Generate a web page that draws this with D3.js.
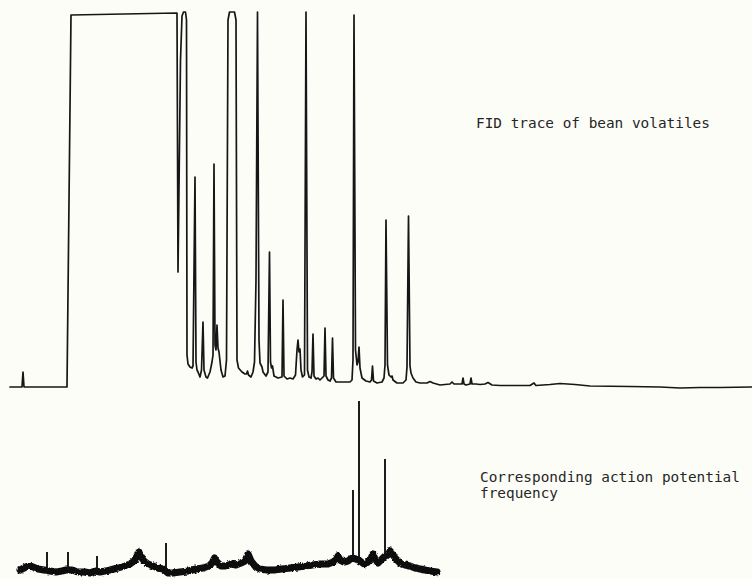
<!DOCTYPE html>
<html>
<head>
<meta charset="utf-8">
<script src="https://cdn.jsdelivr.net/npm/d3@7"></script>
<style>
  html, body { margin: 0; padding: 0; background: #fdfdf8; }
  svg { display: block; }
  .label { font-family: "DejaVu Sans Mono", monospace; font-size: 14.4px; fill: #262626; }
</style>
</head>
<body>
<svg id="chart" width="752" height="579"></svg>
<script>
// ---- FID trace: retention time vs. detector response (chart units) ----
const fidTime = [
  0, 12, 13, 14, 57, 61, 167, 168, 170.5, 172, 173.5, 175.5, 176.5, 177, 178, 180, 182,
  183, 185, 186, 187, 188, 190, 191.5, 193, 194, 196, 197.5, 200, 202, 203, 204, 205, 206,
  207, 208, 209, 211, 213, 215, 216.5, 218, 219.5, 224.5, 226, 227, 228.5, 232, 235, 236.5,
  237.5, 238.5, 241, 243, 244.5, 246, 247.5, 249, 250, 252, 253, 256, 258, 259.5, 260.5,
  261.5, 262.5, 264, 268, 272, 273, 274, 277, 280, 283, 285.5, 287, 288, 289, 290, 291,
  292.5, 294.5, 296, 297.5, 299, 301, 302, 303, 304, 306, 308, 310, 312, 314, 315, 316,
  318, 320, 321.5, 322.5, 323.5, 326, 330, 335, 340, 342, 343, 344, 345.5, 347, 348, 349,
  350, 352, 356, 360, 361.5, 362.5, 363.5, 367, 372, 374, 375, 376, 377.5, 379, 381, 382,
  383, 387, 393, 396, 397, 398.5, 400, 401, 403, 406, 410, 417, 420, 423, 430, 440, 442,
  444, 452, 453, 454, 456, 460, 461, 462, 466, 470, 475, 478, 482, 490, 520, 524, 526,
  540, 550, 565, 580, 620, 650, 670, 690, 710, 742
];
const fidSignal = [
  0, 0, 15, 0, 0, 372, 374, 115, 327, 371, 375, 375, 367, 32, 23, 20, 19,
  21, 210, 25, 17, 15, 10, 17, 65, 17, 10, 9, 15, 25, 32, 223, 42, 37,
  62, 39, 35, 17, 10, 11, 27, 367, 375, 375, 367, 27, 19, 15, 13, 13,
  16, 12, 10, 15, 25, 107, 375, 47, 24, 20, 15, 11, 15, 135, 25,
  19, 21, 11, 9, 10, 87, 11, 8, 9, 8, 12, 37, 47, 35, 38, 17,
  10, 12, 375, 17, 10, 9, 15, 53, 11, 8, 9, 7, 9, 11, 59, 11,
  7, 6, 9, 49, 9, 5, 5, 5, 5, 7, 27, 372, 37, 22, 25, 40,
  19, 9, 6, 5, 7, 21, 6, 4, 5, 9, 22, 167, 22, 12, 10, 11,
  7, 4, 4, 7, 20, 171, 21, 14, 9, 5, 4, 4, 5.5, 4, 2, 3, 5,
  3, 3, 9, 3, 2, 3, 9, 3, 3, 2.5, 3, 4.5, 2, 1.5, 1.5, 4, 1.5,
  2.5, 3.5, 2.5, 1, 0.5, 0, -1, -0.5, -0.5, 0
];

// ---- Action potential frequency: smoothed level and discrete spikes ----
const apTime = [
  10, 14, 18, 23, 28, 34, 40, 46, 52, 56, 62, 68, 75, 80, 85, 90, 95, 100, 108, 115,
  120, 124, 127, 129, 131, 134, 138, 143, 148, 153, 158, 163, 170, 178, 186, 193, 199,
  202, 204.5, 207, 211, 216, 221, 226, 231, 235, 238, 241, 245, 250, 256, 264, 272, 280,
  288, 295, 302, 310, 318, 323, 326, 328, 330, 334, 338, 342, 346, 350, 354, 358, 361,
  363, 365, 368, 372, 375, 378, 380, 382, 385, 390, 395, 400, 405, 410, 415, 420, 427
];
const apLevel = [
  8, 10, 12, 11, 9, 8, 7, 6, 7, 8, 8, 6, 6, 5, 7, 6, 7, 8, 10, 12,
  14, 17, 22, 26, 21, 17, 14, 12, 10, 9, 5, 5, 6, 7, 9, 10, 12,
  15, 20, 16, 12, 12, 14, 13, 15, 17, 24, 17, 12, 9, 8, 8, 9, 10,
  11, 12, 13, 14, 14, 16, 18, 22, 18, 16, 17, 20, 19, 17, 14, 16, 20,
  24, 19, 15, 19, 22, 23, 27, 25, 20, 15, 13, 12, 10, 9, 8, 7, 6
];
const spikeTime = [37, 58, 87, 156, 343, 349, 375];
const spikeTop  = [26, 26, 22, 35, 88, 177, 119];

const labels = {
  fid: ["FID trace of bean volatiles"],
  ap: ["Corresponding action potential", "frequency"]
};

const svg = d3.select("#chart");

// Rough pen edge for the heavy frequency trace
const defs = svg.append("defs");
const rough = defs.append("filter").attr("id", "pen-rough")
  .attr("x", "-5%").attr("y", "-50%").attr("width", "110%").attr("height", "200%");
rough.append("feTurbulence")
  .attr("type", "fractalNoise").attr("baseFrequency", "0.3 0.45")
  .attr("numOctaves", 2).attr("seed", 7).attr("result", "noise");
rough.append("feDisplacementMap")
  .attr("in", "SourceGraphic").attr("in2", "noise")
  .attr("scale", 3).attr("xChannelSelector", "R").attr("yChannelSelector", "G");

// Shared time axis for both recordings
const x = d3.scaleLinear().domain([0, 742]).range([10, 752]);
const yFid = d3.scaleLinear().domain([0, 374]).range([387, 13]);
const yAp = d3.scaleLinear().domain([0, 180]).range([578, 398]);

const fidPoints = fidTime.map((t, i) => [t, fidSignal[i]]);
const fidLine = d3.line().x(d => x(d[0])).y(d => yFid(d[1]));

svg.append("path")
  .attr("d", fidLine(fidPoints))
  .attr("fill", "none")
  .attr("stroke", "#161616")
  .attr("stroke-width", 1.7)
  .attr("stroke-linejoin", "round")
  .attr("stroke-linecap", "round");

// Smoothed frequency level drawn as a heavy pen stroke
const apPoints = apTime.map((t, i) => [t, apLevel[i]]);
const apLine = d3.line().x(d => x(d[0])).y(d => yAp(d[1]));
const apGroup = svg.append("g").attr("filter", "url(#pen-rough)");
apGroup.append("path")
  .attr("d", apLine(apPoints))
  .attr("fill", "none")
  .attr("stroke", "#0d0d0d")
  .attr("stroke-width", 7)
  .attr("stroke-linejoin", "round")
  .attr("stroke-linecap", "round");

// Spikes rise from the level at their own time
const levelAt = t => {
  const i = d3.bisector(d => d).left(apTime, t);
  if (i <= 0) return apLevel[0];
  if (i >= apTime.length) return apLevel[apLevel.length - 1];
  const t0 = apTime[i - 1], t1 = apTime[i];
  const k = (t - t0) / (t1 - t0);
  return apLevel[i - 1] + k * (apLevel[i] - apLevel[i - 1]);
};
svg.append("g").selectAll("line")
  .data(spikeTime.map((t, i) => ({ t, top: spikeTop[i] })))
  .join("line")
  .attr("x1", d => x(d.t)).attr("x2", d => x(d.t))
  .attr("y1", d => yAp(levelAt(d.t)))
  .attr("y2", d => yAp(d.top))
  .attr("stroke", "#111")
  .attr("stroke-width", 1.9);

// Annotations
svg.append("text").attr("class", "label")
  .attr("x", 476).attr("y", 128)
  .text(labels.fid[0]);

const apText = svg.append("text").attr("class", "label")
  .attr("x", 480).attr("y", 482);
apText.selectAll("tspan")
  .data(labels.ap)
  .join("tspan")
  .attr("x", 480)
  .attr("dy", (d, i) => i === 0 ? 0 : 16)
  .text(d => d);
</script>
</body>
</html>
